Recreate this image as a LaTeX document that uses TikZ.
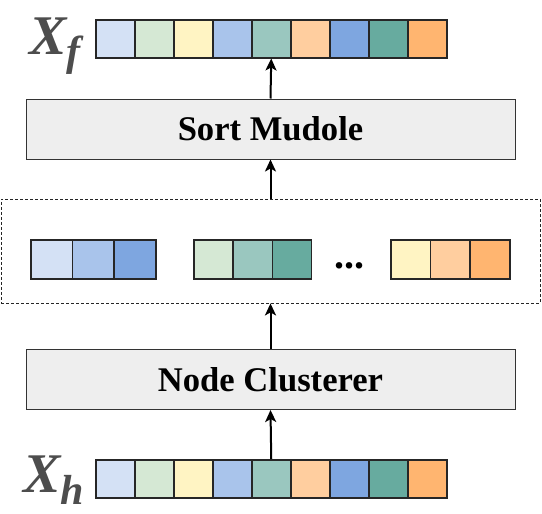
\documentclass[tikz,border=0pt]{standalone}
\usepackage{fontspec}
\setmainfont{Liberation Serif}
\usetikzlibrary{arrows.meta}
\definecolor{c1}{HTML}{D4E1F5}
\definecolor{c2}{HTML}{D5E8D4}
\definecolor{c3}{HTML}{FFF4C3}
\definecolor{c4}{HTML}{A9C4EB}
\definecolor{c5}{HTML}{9AC7BF}
\definecolor{c6}{HTML}{FFCE9F}
\definecolor{c7}{HTML}{7EA6E0}
\definecolor{c8}{HTML}{67AB9F}
\definecolor{c9}{HTML}{FFB570}
\definecolor{boxfill}{HTML}{EEEEEE}
\definecolor{labgray}{HTML}{4D4D4D}
\tikzset{
  cell/.style={draw=black!85, line width=1.5pt, inner sep=0pt, minimum height=38pt, anchor=north west},
  modbox/.style={draw=black!80, line width=1pt, fill=boxfill, inner sep=0pt, minimum width=489pt, minimum height=60pt,
    font=\fontsize{34.6}{36}\selectfont\bfseries},
  conn/.style={line width=2pt, -{Stealth[length=12pt,width=11pt,inset=3pt]}},
  dashbox/.style={draw=black!85, line width=0.8pt, dash pattern=on 3pt off 2pt, inner sep=0pt, minimum width=539pt, minimum height=104pt},
  veclab/.style={text=labgray, inner sep=0pt, anchor=base west}
}
\begin{document}
\begin{tikzpicture}[x=1pt,y=-1pt]
\useasboundingbox (0,0) rectangle (542,514);
% top bar
\foreach \c [count=\i] in {c1,c2,c3,c4,c5,c6,c7,c8,c9}{
  \node[cell, fill=\c, minimum width=39pt] (t\i) at ({95+(\i-1)*39},19) {};
}
% bottom bar
\foreach \c [count=\i] in {c1,c2,c3,c4,c5,c6,c7,c8,c9}{
  \node[cell, fill=\c, minimum width=39pt] (b\i) at ({95+(\i-1)*39},459) {};
}
% modules
\node[modbox] (sm) at (270.5,129) {Sort Mudole};
\node[modbox] (nc) at (270.5,379.5) {Node Clusterer};
% dashed box
\node[dashbox] (db) at (270.5,251) {};
% groups
\foreach \c [count=\i] in {c1,c4,c7}{
  \node[cell, fill=\c, minimum width=41.7pt, minimum height=39pt] (ga\i) at ({30+(\i-1)*41.7},239) {};
}
\foreach \c [count=\i] in {c2,c5,c8}{
  \node[cell, fill=\c, minimum width=39.3pt, minimum height=39pt] (gb\i) at ({193+(\i-1)*39.3},239) {};
}
\foreach \c [count=\i] in {c3,c6,c9}{
  \node[cell, fill=\c, minimum width=39.7pt, minimum height=39pt] (gc\i) at ({390+(\i-1)*39.7},239) {};
}
\node[inner sep=0pt, anchor=base, font=\fontsize{40}{40}\selectfont\bfseries] (dots) at (349,268) {...};
% labels
\node[veclab] (xf) at (29,54) {\fontsize{56}{56}\selectfont\bfseries\itshape X\raisebox{-11pt}{\fontsize{42}{42}\selectfont f}};
\node[veclab] (xh) at (23,492) {\fontsize{56}{56}\selectfont\bfseries\itshape X\raisebox{-12pt}{\fontsize{42}{42}\selectfont h}};
% connectors
\draw[conn] (b5.north) -- (nc.south);
\draw[conn] (nc.north) -- (db.south);
\draw[conn] (db.north) -- (sm.south);
\draw[conn] (sm.north) -- (t5.south);
\end{tikzpicture}
\end{document}
